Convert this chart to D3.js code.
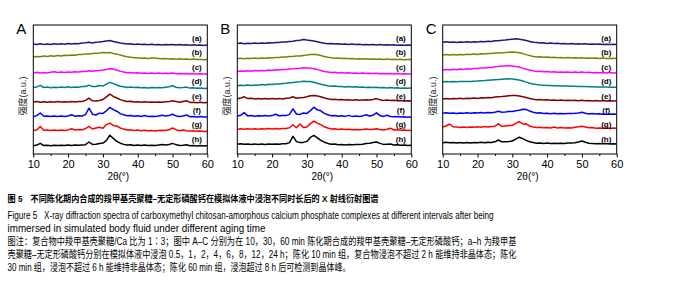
<!DOCTYPE html>
<html>
<head>
<meta charset="utf-8">
<script src="https://cdn.jsdelivr.net/npm/d3@7/dist/d3.min.js"></script>
<style>
    body { margin: 0; background: #fff; }
</style>
</head>
<body>
<svg id="chart" width="680" height="294"></svg>
<script>

// 2theta sampling (degrees)
var twoTheta = [10,11,12,13,14,15,16,17,18,19,20,21,22,23,24,25,26,27,28,29,30,31,32,33,34,35,
    36,37,38,39,40,41,42,43,44,45,46,47,48,49,50,51,52,53,54,55,56,57,58,59,60];

var sampleLabels = ["(a)", "(b)", "(c)", "(d)", "(e)", "(f)", "(g)", "(h)"];
var panelNames = ["A", "B", "C"];
var xTicks = [10, 20, 30, 40, 50, 60];
var xTitle = "2θ(°)";
var yTitle = "强度(a.u.)";

// panel A: aged 10 min, intensity above each trace's offset (a.u.)
var spectraA = [
    [1.2,0.6,1.4,0.8,1.3,0.7,1.5,0.9,1.4,1.0,1.6,1.1,1.7,1.4,2.2,2.4,3.0,2.3,2.9,3.1,3.6,4.3,4.6,3.8,3.0,2.2,
     1.7,1.2,1.4,0.8,1.1,0.6,1.0,0.5,0.9,0.4,0.8,0.3,0.7,0.4,0.8,0.2,0.6,0.1,0.5,0.0,0.4,-0.1,0.3,-0.2,0.1],
    [2.6,3.2,2.8,3.5,3.1,3.8,3.4,4.0,3.7,4.3,4.0,4.6,4.4,5.0,5.0,5.6,5.5,6.0,6.3,6.6,7.2,6.9,7.0,6.2,5.5,4.5,
     3.6,2.8,2.4,1.8,1.9,1.3,1.6,1.0,1.5,1.6,1.2,0.8,1.1,0.6,0.9,0.4,0.8,0.3,0.6,0.1,0.5,0.0,0.4,-0.1,0.2],
    [1.0,1.8,0.9,1.5,1.1,1.7,2.2,1.4,1.9,1.5,2.1,1.7,2.3,2.0,2.6,2.5,3.3,2.8,3.2,3.6,4.0,4.6,5.2,4.9,4.0,2.8,
     1.9,1.3,1.5,0.9,1.2,0.7,1.1,0.6,1.0,0.5,0.9,0.4,0.8,0.5,1.1,0.3,0.6,0.2,0.5,0.0,0.4,-0.1,0.3,0.0,0.1],
    [0.8,1.5,3.0,0.9,1.3,0.7,1.2,0.8,1.3,0.9,1.6,1.0,1.5,1.2,1.8,1.9,3.3,1.8,2.0,2.8,2.4,4.2,6.0,4.8,3.4,2.2,
     1.6,1.0,1.3,0.8,1.1,0.6,1.0,0.5,0.9,0.6,0.9,0.7,1.2,1.6,2.6,1.2,0.7,0.9,1.3,0.3,0.6,0.1,0.5,0.0,0.2],
    [0.7,1.4,0.6,1.1,0.5,1.0,0.6,1.2,0.7,1.1,0.8,1.3,0.9,1.4,1.3,2.4,4.6,2.0,1.8,2.3,3.2,6.0,8.6,6.5,4.8,3.2,
     2.1,1.3,1.5,0.8,1.1,0.6,1.0,0.5,0.9,0.5,0.8,0.6,1.0,1.4,2.1,1.2,0.6,1.4,2.0,0.4,0.6,0.1,0.5,0.0,0.2],
    [0.5,1.6,4.2,0.9,1.2,0.6,1.1,0.7,1.3,0.8,1.2,2.4,1.0,1.5,1.2,2.6,9.0,3.0,2.2,4.0,3.8,6.4,9.8,7.6,6.0,3.6,
     2.4,1.4,1.8,1.0,1.4,0.8,1.6,0.7,1.0,0.6,1.1,2.0,1.2,1.6,3.0,1.3,0.8,1.2,2.2,0.5,0.8,0.2,0.6,0.1,0.3],
    [1.0,1.6,5.2,1.4,1.6,1.0,1.5,1.1,1.6,1.2,1.7,2.8,1.6,2.0,1.8,2.9,5.2,2.6,3.6,4.4,3.4,7.0,8.4,6.2,5.6,3.6,
     2.5,1.7,1.9,1.2,1.5,0.9,1.3,0.8,1.1,0.7,1.0,1.3,1.0,1.8,3.6,1.9,0.9,1.5,0.8,0.5,0.8,0.3,0.6,0.1,0.3],
    [0.3,0.9,2.6,0.5,0.8,0.3,0.7,0.4,0.8,0.4,0.9,0.5,1.0,0.7,1.1,1.3,4.0,1.6,1.7,2.6,2.9,5.4,10.8,7.6,4.6,2.8,
     1.6,0.9,1.2,0.6,1.0,0.5,0.9,0.4,0.8,0.5,1.0,1.6,1.1,1.5,2.6,1.4,0.6,0.8,1.2,0.3,0.6,0.1,0.5,0.0,0.2]
];

// panel B: aged 30 min
var spectraB = [
    [1.6,2.1,1.5,2.0,1.6,2.2,1.8,2.3,2.0,2.5,2.2,2.8,2.6,3.1,3.2,3.8,4.0,4.6,5.0,5.6,5.1,4.8,4.2,3.5,2.6,2.0,
     1.5,1.6,1.1,1.4,0.9,1.2,0.7,1.1,0.6,0.9,0.5,0.8,0.4,0.7,0.3,0.6,0.2,0.5,0.1,0.4,0.0,0.3,-0.1,0.2,0.0],
    [0.8,1.3,0.9,1.4,1.0,1.5,1.2,1.7,1.4,1.9,1.7,2.2,2.0,2.6,2.5,3.0,3.1,3.5,3.7,4.2,4.5,5.0,5.3,4.8,4.0,3.1,
     2.3,1.8,1.4,1.6,1.0,1.3,0.8,1.1,0.6,0.9,0.5,0.8,0.4,0.7,0.3,0.6,0.2,0.5,0.1,0.4,0.0,0.3,-0.1,0.2,0.0],
    [2.6,3.1,2.7,3.2,2.8,3.4,3.0,3.6,3.3,3.9,3.6,4.2,4.0,4.6,4.5,5.1,5.2,5.6,5.7,6.2,6.1,5.8,5.2,4.4,3.4,2.5,
     2.0,1.4,1.7,1.1,1.4,0.9,1.2,0.7,1.0,0.6,0.9,0.5,0.8,0.4,0.7,0.3,0.6,0.2,0.5,0.1,0.4,0.0,0.3,-0.1,0.1],
    [2.6,3.2,2.8,3.3,3.0,3.5,3.2,3.8,3.5,4.1,3.9,4.5,4.4,5.0,5.1,5.6,5.9,6.4,6.6,7.2,7.0,6.8,6.1,5.2,4.2,3.4,
     2.7,2.2,2.4,1.8,2.0,1.5,1.8,1.3,1.6,1.1,1.4,0.9,1.2,0.8,1.1,0.6,0.9,0.5,0.8,0.4,0.6,0.2,0.5,0.1,0.3],
    [4.0,4.8,6.0,4.2,4.6,3.9,4.4,3.8,4.3,3.7,4.4,3.8,4.3,3.9,4.6,4.8,6.0,4.6,5.0,5.4,6.0,7.0,7.4,6.8,6.0,4.8,
     4.0,3.3,3.6,3.0,3.3,2.7,3.1,2.6,3.0,2.5,2.9,3.0,2.8,3.4,4.2,3.0,2.4,2.8,2.2,2.5,2.0,2.3,1.8,2.1,1.7],
    [1.2,2.0,4.6,1.3,1.6,1.0,1.5,1.1,1.6,1.2,1.6,3.0,1.4,1.8,1.6,2.8,8.4,3.2,2.8,4.2,3.8,6.6,10.0,7.4,6.4,3.8,
     2.4,1.4,1.8,1.0,1.4,0.8,1.8,0.8,1.2,0.7,1.3,2.4,1.2,2.0,4.4,1.6,0.8,2.0,0.7,0.4,0.7,0.1,0.5,0.0,0.2],
    [2.2,2.9,2.4,2.8,2.3,2.8,2.4,2.9,2.5,3.0,2.6,3.1,2.7,3.2,3.0,3.8,6.8,3.8,7.6,4.2,4.6,8.0,10.4,8.4,7.0,4.8,
     3.6,2.6,2.9,2.2,2.5,2.0,2.4,1.9,2.2,1.8,2.1,2.5,2.0,2.4,2.8,2.0,1.7,2.4,3.4,1.6,1.8,1.3,1.6,1.2,1.4],
    [1.8,2.2,1.7,2.1,1.6,2.0,1.6,2.0,1.6,2.1,1.7,2.1,1.8,2.3,2.2,3.4,9.6,4.4,3.4,3.6,4.6,8.6,10.6,8.2,5.6,3.8,
     2.6,1.7,2.0,1.3,1.6,1.1,1.5,1.2,1.6,1.4,1.8,2.6,2.8,3.4,4.0,2.6,1.6,1.8,2.0,1.0,1.2,0.7,1.0,0.6,0.8]
];

// panel C: aged 60 min
var spectraC = [
    [2.9,3.4,2.9,3.3,2.8,3.3,2.9,3.4,3.0,3.5,3.2,3.7,3.4,3.9,3.8,4.4,4.4,4.9,5.2,5.6,6.0,6.4,6.0,5.4,4.6,3.8,
     3.0,2.6,2.2,2.4,1.8,2.1,1.6,1.9,1.5,1.8,1.3,1.6,1.2,1.5,1.1,1.4,1.0,1.3,0.9,1.1,0.8,1.0,0.7,0.9,0.7],
    [4.6,5.0,4.6,5.1,4.7,5.2,4.8,5.3,5.0,5.5,5.2,5.8,5.6,6.1,6.0,6.5,6.6,6.9,7.1,7.4,7.6,7.3,6.9,6.0,5.0,4.0,
     3.2,2.7,2.9,2.3,2.6,2.0,2.3,1.8,2.1,1.7,2.0,1.6,1.9,1.5,1.8,1.4,1.7,1.3,1.6,1.2,1.5,1.1,1.4,1.1,1.3],
    [4.0,4.5,4.1,4.7,4.3,4.9,4.6,5.2,5.0,5.6,5.4,6.0,5.9,6.5,6.6,7.2,7.4,7.9,8.1,8.4,8.0,7.4,7.0,5.9,4.8,3.9,
     3.2,2.6,2.8,2.2,2.5,1.9,2.2,1.8,2.1,1.7,2.0,1.6,1.9,1.5,1.9,1.4,1.7,1.3,1.6,1.2,1.5,1.1,1.4,1.1,1.3],
    [6.6,6.8,6.6,6.8,6.7,6.9,6.8,7.0,7.0,7.2,7.3,7.6,7.8,8.1,8.4,8.7,9.0,9.2,9.4,9.6,9.3,9.0,8.4,7.4,6.3,5.2,
     4.4,3.8,3.4,3.2,3.0,2.9,2.7,2.6,2.5,2.4,2.3,2.2,2.1,2.0,1.9,1.8,1.7,1.6,1.5,1.4,1.4,1.3,1.2,1.1,1.1],
    [3.8,4.3,3.9,4.4,4.0,4.5,4.1,4.6,4.2,4.8,4.4,5.0,4.7,5.2,5.1,5.7,6.0,6.2,6.6,7.0,7.4,7.2,6.9,6.0,5.2,4.3,
     3.6,3.0,3.3,2.7,3.0,2.5,2.8,2.3,2.7,2.2,2.6,2.2,2.6,2.1,2.6,2.0,2.4,1.9,2.3,1.9,2.2,1.8,2.1,1.8,2.0],
    [3.9,4.4,3.9,4.3,3.8,4.3,3.9,4.4,4.0,4.5,4.1,4.6,4.2,4.7,4.5,5.0,6.0,4.9,5.2,5.6,5.8,6.4,7.0,8.0,7.6,6.2,
     5.0,4.2,4.4,3.7,4.0,3.5,3.9,3.4,3.8,3.4,3.8,3.6,3.9,4.3,5.0,3.9,3.3,3.6,3.1,3.4,3.0,3.3,2.9,3.2,2.9],
    [4.6,5.6,7.6,4.8,4.6,4.2,4.6,4.2,4.7,4.3,4.8,4.4,5.0,4.6,5.2,5.4,7.8,5.2,5.6,6.0,6.2,8.2,10.0,7.6,7.8,5.6,
     4.6,4.0,4.4,3.8,4.1,3.7,4.6,3.6,4.0,3.5,3.9,3.6,4.4,4.8,5.4,4.6,3.8,4.0,3.4,3.7,3.3,3.6,3.2,3.5,3.3],
    [3.3,3.7,3.2,3.6,3.1,3.5,3.1,3.5,3.1,3.6,3.2,3.7,3.3,3.8,3.6,4.2,6.0,4.2,4.3,4.6,5.0,6.8,8.8,7.4,5.6,4.2,
     3.4,2.8,3.1,2.6,2.9,2.5,2.8,2.4,2.8,2.4,2.9,3.0,3.3,4.0,5.0,3.8,2.8,2.6,2.3,2.6,2.2,2.5,2.1,2.3,2.0]
];

var captionLines = [
    "图 5　不同陈化期内合成的羧甲基壳聚糖–无定形磷酸钙在模拟体液中浸泡不同时长后的 X 射线衍射图谱",
    "Figure 5   X-ray diffraction spectra of carboxymethyl chitosan-amorphous calcium phosphate complexes at different intervals after being",
    "immersed in simulated body fluid under different aging time",
    "图注：复合物中羧甲基壳聚糖/Ca 比为 1∶3；图中 A–C 分别为在 10，30，60 min 陈化期合成的羧甲基壳聚糖–无定形磷酸钙；a–h 为羧甲基",
    "壳聚糖–无定形磷酸钙分别在模拟体液中浸泡 0.5，1，2，4，6，8，12，24 h；陈化 10 min 组，复合物浸泡不超过 2 h 能维持非晶体态；陈化",
    "30 min 组，浸泡不超过 6 h 能维持非晶体态；陈化 60 min 组，浸泡超过 8 h 后可检测到晶体峰。"
];

var colors = ["#1a1a80", "#808000", "#ff00ff", "#008080", "#800000", "#0000ff", "#ff0000", "#000000"];

var svg = d3.select("#chart");
var latin = "'Liberation Sans', Arial, sans-serif";
var mixed = "'Liberation Sans', 'Noto Sans CJK SC', sans-serif";

// Set up: panel geometry
var panelLeft = [33.3, 237.3, 442.7],
    plotWidth = 174,
    plotTop = 25,
    plotBottom = 154;

var yScale = d3.scaleLinear().domain([0, 129]).range([plotBottom, plotTop]);

function traceOffset(i) {
    return 8 + (7 - i) * 14.4;
}

function draw_panel(p, spectra) {
    var x0 = panelLeft[p];
    var xScale = d3.scaleLinear().domain([10, 60]).range([x0, x0 + plotWidth]);

    svg.append("clipPath").attr("id", "clip" + p)
        .append("rect")
        .attr("x", x0).attr("y", plotTop)
        .attr("width", plotWidth).attr("height", plotBottom - plotTop);

    var g = svg.append("g");

    // traces
    spectra.forEach(function (vals, i) {
        var line = d3.line()
            .x(function (d, k) { return xScale(twoTheta[k]); })
            .y(function (d) { return yScale(d + traceOffset(i)); });
        g.append("path")
            .datum(vals)
            .attr("clip-path", "url(#clip" + p + ")")
            .attr("fill", "none")
            .attr("stroke", colors[i])
            .attr("stroke-width", 1.5)
            .attr("stroke-linejoin", "round")
            .attr("d", line);

        g.append("text")
            .attr("x", xScale(57))
            .attr("y", yScale(traceOffset(i) + 7))
            .attr("dy", "0.35em")
            .attr("text-anchor", "middle")
            .style("font-family", latin)
            .style("font-size", "8px")
            .style("font-weight", "bold")
            .text(sampleLabels[i]);
    });

    // frame
    g.append("rect")
        .attr("x", x0).attr("y", plotTop)
        .attr("width", plotWidth).attr("height", plotBottom - plotTop)
        .attr("fill", "none").attr("stroke", "#000").attr("stroke-width", 1);

    // x axis with minor ticks
    var minor = svg.append("g")
        .attr("transform", "translate(0," + plotBottom + ")")
        .call(d3.axisBottom(xScale).tickValues([15, 25, 35, 45, 55]).tickSize(2).tickFormat(""));
    minor.select(".domain").remove();

    var xAxis = svg.append("g")
        .attr("transform", "translate(0," + plotBottom + ")")
        .call(d3.axisBottom(xScale).tickValues(xTicks).tickSize(3.5).tickPadding(3));
    xAxis.select(".domain").remove();
    xAxis.selectAll("text")
        .style("font-family", latin)
        .style("font-size", "11px")
        .attr("fill", "#000");

    // axis titles
    svg.append("text")
        .attr("x", x0 + plotWidth / 2 - 2)
        .attr("y", 180)
        .attr("text-anchor", "middle")
        .style("font-family", mixed)
        .style("font-size", "10px")
        .text(xTitle);

    svg.append("text")
        .attr("transform", "translate(" + (x0 - 7) + "," + 96 + ") rotate(-90)")
        .attr("text-anchor", "middle")
        .style("font-family", mixed)
        .style("font-size", "9px")
        .attr("fill", "#222")
        .text(yTitle);

    // panel letter
    svg.append("text")
        .attr("x", x0 - 17)
        .attr("y", 34)
        .style("font-family", latin)
        .style("font-size", "15px")
        .text(panelNames[p]);
}

draw_panel(0, spectraA);
draw_panel(1, spectraB);
draw_panel(2, spectraC);

// caption
var capSpec = [
    { y: 202, size: 9.5, len: 371, bold: true },
    { y: 219, size: 10.5, len: 486, bold: false },
    { y: 231.5, size: 10.5, len: 258, bold: false },
    { y: 245, size: 10, len: 509, bold: false },
    { y: 258, size: 10, len: 509, bold: false },
    { y: 270.5, size: 10, len: 343, bold: false }
];

svg.selectAll(".caption")
    .data(captionLines)
    .enter().append("text")
    .attr("class", "caption")
    .attr("x", 7.5)
    .attr("y", function (d, i) { return capSpec[i].y; })
    .attr("textLength", function (d, i) { return capSpec[i].len; })
    .attr("lengthAdjust", "spacingAndGlyphs")
    .style("white-space", "pre")
    .style("font-family", mixed)
    .style("font-size", function (d, i) { return capSpec[i].size + "px"; })
    .style("font-weight", function (d, i) { return capSpec[i].bold ? "bold" : "normal"; })
    .text(function (d) { return d; });

</script>
</body>
</html>
